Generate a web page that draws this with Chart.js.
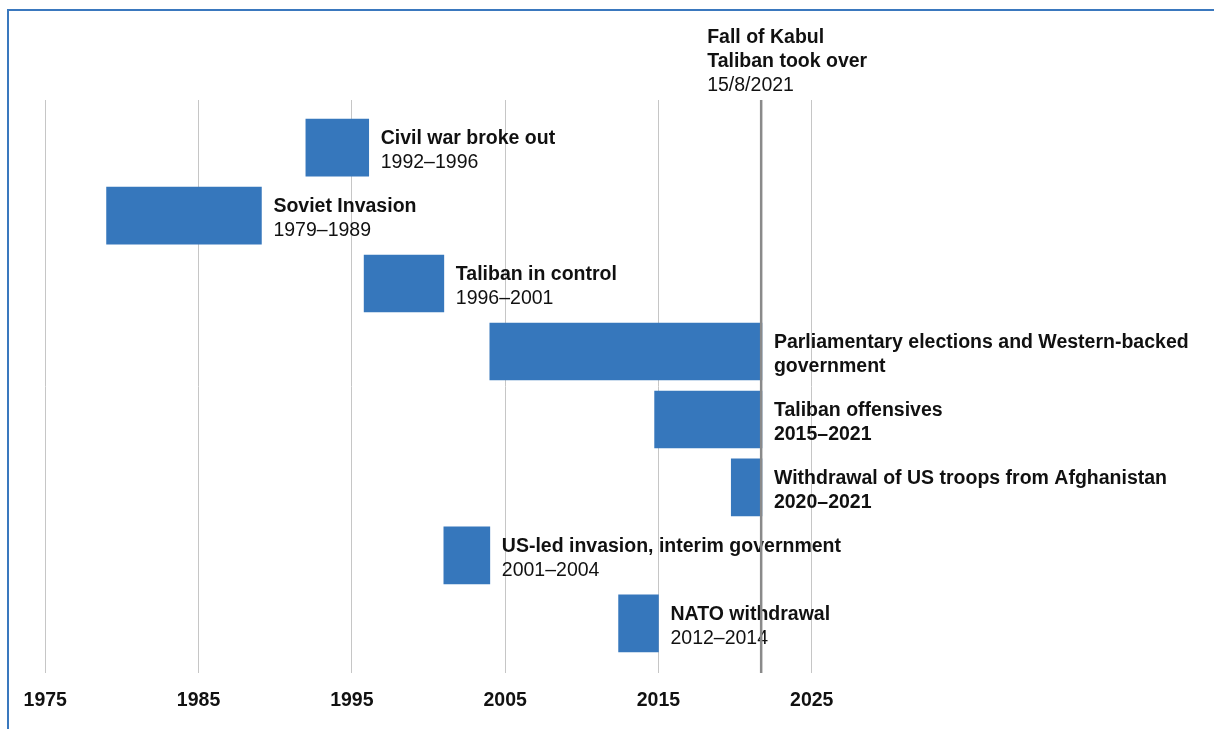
<!DOCTYPE html>
<html>
<head>
<meta charset="utf-8">
<title>Afghanistan timeline</title>
<script src="https://cdn.jsdelivr.net/npm/chart.js@4/dist/chart.umd.min.js"></script>
<style>
  html, body { margin: 0; padding: 0; background: #fff; }
  #wrap { position: relative; width: 1214px; height: 729px; overflow: hidden; }
  #frame {
    position: absolute; left: 7px; top: 9px; right: -10px; bottom: -10px;
    border-left: 2px solid #3a78be; border-top: 2px solid #3a78be;
    pointer-events: none;
  }
</style>
</head>
<body>
<div id="wrap">
  <canvas id="chart" width="1214" height="729"></canvas>
  <div id="frame"></div>
</div>
<script>
// rows, top to bottom
const titles = [
  "Civil war broke out",
  "Soviet Invasion",
  "Taliban in control",
  "Parliamentary elections and Western-backed",
  "Taliban offensives",
  "Withdrawal of US troops from Afghanistan",
  "US-led invasion, interim government",
  "NATO withdrawal"
];
const subtitles = [
  "1992–1996",
  "1979–1989",
  "1996–2001",
  "government",
  "2015–2021",
  "2020–2021",
  "2001–2004",
  "2012–2014"
];
const subtitleBold = [false, false, false, true, true, true, false, false];

// bar spans (years)
const starts = [1992, 1979, 1995.8, 2004, 2014.75, 2019.75, 2001, 2012.4];
const ends   = [1996.1, 1989.1, 2001, 2021.75, 2021.75, 2021.75, 2004, 2015];

const yearTicks = [1975, 1985, 1995, 2005, 2015, 2025];

const kabulYear = 2021.7;
const kabulLines = ["Fall of Kabul", "Taliban took over", "15/8/2021"];

const FONT = "'Liberation Sans', Arial, sans-serif";
const TEXT = "#111";

const bars = starts.map((s, i) => ({ x: [s, ends[i]], y: i + 1 }));

const labelPlugin = {
  id: "rowLabels",
  afterDatasetsDraw(chart) {
    const ctx = chart.ctx;
    const xs = chart.scales.x;
    const ys = chart.scales.y;
    ctx.save();
    ctx.fillStyle = TEXT;
    ctx.textAlign = "left";
    ctx.textBaseline = "middle";
    titles.forEach((t, i) => {
      const x = xs.getPixelForValue(ends[i]) + 12;
      const y = ys.getPixelForValue(i + 1);
      ctx.font = "bold 19.5px " + FONT;
      ctx.fillText(t, x, y - 9);
      ctx.font = (subtitleBold[i] ? "bold " : "") + "19.5px " + FONT;
      ctx.fillText(subtitles[i], x, y + 15);
    });

    // Fall of Kabul marker
    const kx = xs.getPixelForValue(kabulYear);
    const area = chart.chartArea;
    ctx.strokeStyle = "#8a8a8a";
    ctx.lineWidth = 2.5;
    ctx.beginPath();
    ctx.moveTo(kx, area.top);
    ctx.lineTo(kx, area.bottom);
    ctx.stroke();

    ctx.textBaseline = "alphabetic";
    kabulLines.forEach((t, i) => {
      ctx.font = (i < 2 ? "bold " : "") + "19.5px " + FONT;
      ctx.fillText(t, kx - 54, area.top - 57 + i * 24);
    });
    ctx.restore();
  }
};

new Chart(document.getElementById("chart").getContext("2d"), {
  type: "bar",
  data: {
    labels: titles,
    datasets: [{
      data: bars,
      backgroundColor: "#3677bc",
      borderWidth: 0,
      barThickness: 57
    }]
  },
  options: {
    indexAxis: "y",
    responsive: false,
    animation: false,
    layout: { padding: { top: 100, left: 10, right: 19, bottom: 0 } },
    plugins: {
      legend: { display: false },
      tooltip: { enabled: false }
    },
    scales: {
      x: {
        type: "linear",
        position: "bottom",
        min: 1972.7,
        max: 2050,
        afterBuildTicks: axis => { axis.ticks = yearTicks.map(v => ({ value: v })); },
        afterFit: axis => { axis.height = 56; },
        grid: { color: "#c6c6c6", lineWidth: 1, drawTicks: false },
        border: { display: false },
        ticks: {
          padding: 16,
          color: TEXT,
          font: { family: FONT, size: 19.5, weight: "bold" },
          callback: v => String(v)
        }
      },
      y: {
        type: "linear",
        reverse: true,
        min: 0.3,
        max: 8.73,
        offset: false,
        display: false,
        grid: { display: false, offset: false }
      }
    }
  },
  plugins: [labelPlugin]
});
</script>
</body>
</html>
